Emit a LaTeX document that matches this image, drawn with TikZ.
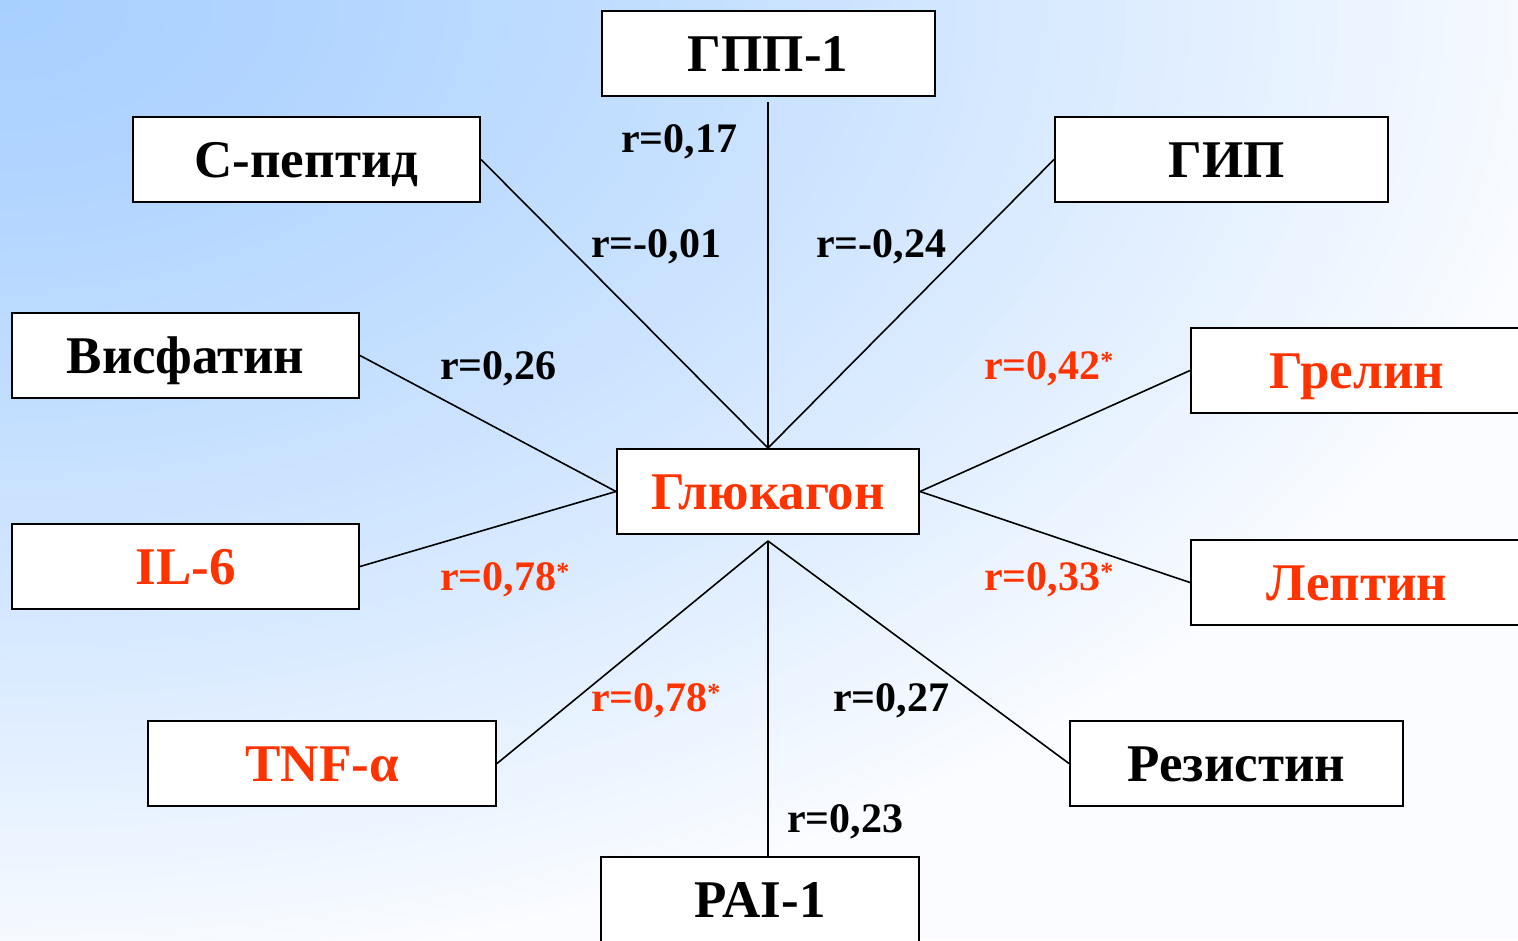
\documentclass[tikz,border=0pt]{standalone}
\usepackage{fontspec}
\setmainfont{Liberation Serif}
\definecolor{hot}{RGB}{255,51,0}
\definecolor{bga}{RGB}{168,208,255}
\definecolor{bgf}{RGB}{250,252,255}
\newcommand\sig{\raisebox{10pt}{\fontsize{26}{26}\selectfont *}}
\tikzset{
  box/.style={draw, line width=2pt, fill=white, minimum height=85pt, inner sep=0pt,
    font=\fontsize{53}{60}\selectfont\bfseries, text height=35pt, text depth=0pt},
  lab/.style={font=\fontsize{42}{48}\selectfont\bfseries, inner sep=0pt, anchor=base west},
  conn/.style={line width=1.6pt}
}
\begin{document}
\begin{tikzpicture}[x=1pt,y=-1pt]
\useasboundingbox (0,0) rectangle (1518,940);
\fill[bgf] (0,0) rectangle (1518,940);
\begin{scope}
\clip (0,0) rectangle (1518,940);
\foreach \i in {80,79,...,1} {
  \pgfmathsetmacro\f{\i*1.12/80}
  \pgfmathsetmacro\p{100*max(0,1-(\f/1.05)^1.3)}
  \pgfmathsetmacro\rx{\f*1518}
  \pgfmathsetmacro\ry{\f*940}
  \fill[bga!\p!bgf] (0,0) ellipse [x radius=\rx pt, y radius=\ry pt];
}
\end{scope}

\node[box, minimum width=333pt] (gpp) at (768,53.5) {ГПП-1};
\node[box, minimum width=347pt] (cpep) at (306.5,159.5) {С-пептид};
\node[box, minimum width=333pt] (gip) at (1221.5,159.5) {\hspace*{10pt}ГИП};
\node[box, minimum width=347pt] (visf) at (185.5,355.5) {Висфатин};
\node[box, minimum width=332pt, text=hot] (grel) at (1357,370.5) {Грелин};
\node[box, minimum width=302pt, text=hot] (gluc) at (768,491.5) {Глюкагон};
\node[box, minimum width=347pt, text=hot] (il6) at (185.5,566.5) {IL-6};
\node[box, minimum width=332pt, text=hot] (lept) at (1357,582.5) {Лептин};
\node[box, minimum width=348pt, text=hot] (tnf) at (322,763.5) {TNF-α};
\node[box, minimum width=333pt] (rez) at (1236.5,763.5) {Резистин};
\node[box, minimum width=318pt] (pai) at (760,899.5) {PAI-1};

\coordinate (gtop) at (gluc.north);
\coordinate (gbot) at ([yshift=-6pt]gluc.south);
\coordinate (gppend) at ([yshift=-5pt]gpp.south);

\draw[conn] (gppend) -- (gtop);
\draw[conn] (cpep.east) -- (gtop);
\draw[conn] (gip.west) -- (gtop);
\draw[conn] (visf.east) -- (gluc.west);
\draw[conn] (il6.east) -- (gluc.west);
\draw[conn] (grel.west) -- (gluc.east);
\draw[conn] (lept.west) -- (gluc.east);
\draw[conn] (tnf.east) -- (gbot);
\draw[conn] (rez.west) -- (gbot);
\draw[conn] (gbot) -- (gbot |- pai.north);

\node[lab] (l1) at (621,152) {r=0,17};
\node[lab] (l2) at (591,257) {r=-0,01};
\node[lab] (l3) at (816,257) {r=-0,24};
\node[lab] (l4) at (440,379) {r=0,26};
\node[lab, text=hot] (l5) at (984,379) {r=0,42\sig};
\node[lab, text=hot] (l6) at (440,590) {r=0,78\sig};
\node[lab, text=hot] (l7) at (984,590) {r=0,33\sig};
\node[lab, text=hot] (l8) at (591,711) {r=0,78\sig};
\node[lab] (l9) at (833,711) {r=0,27};
\node[lab] (l10) at (787,832) {r=0,23};
\end{tikzpicture}
\end{document}
